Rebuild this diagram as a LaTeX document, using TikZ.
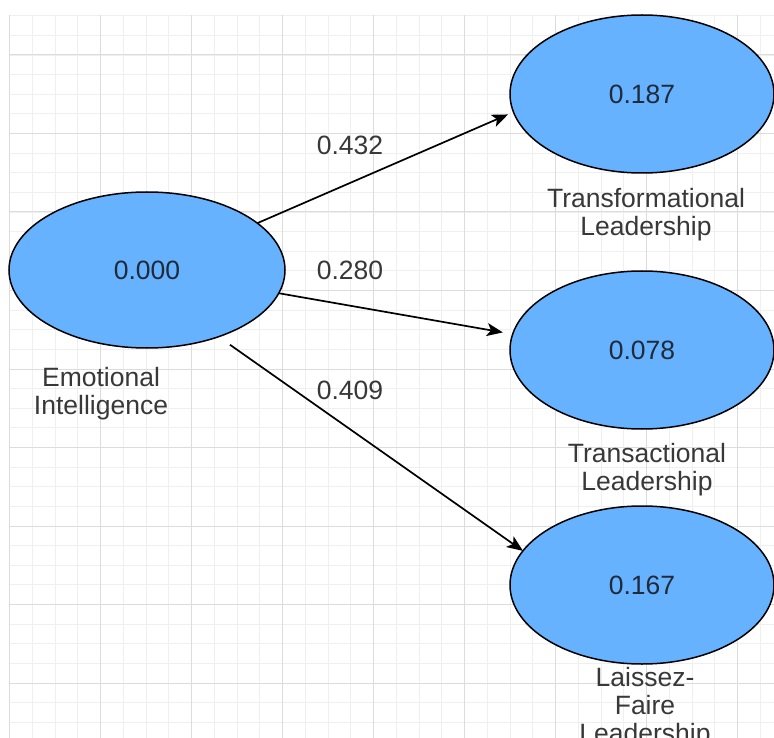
\documentclass[tikz,border=0pt]{standalone}
\usepackage{fontspec}
\setmainfont{Liberation Sans}
\usepackage{tikz}
\usetikzlibrary{arrows.meta}
\usetikzlibrary{shapes.geometric}
\definecolor{gridmajor}{HTML}{DCDCDC}
\definecolor{gridminor}{HTML}{EFEFEF}
\definecolor{latentblue}{HTML}{66B2FF}
\definecolor{numtext}{HTML}{1F2A3A}
\definecolor{labelgray}{HTML}{383838}
\tikzset{
	latent/.style={ellipse, draw=black, line width=1.5pt, fill=latentblue,
		inner sep=0pt, outer sep=0pt, minimum width=264pt, minimum height=158pt,
		text=numtext, font=\fontsize{26.5}{28}\selectfont},
	caption/.style={align=center, text=labelgray, inner sep=0pt,
		font=\fontsize{26.5}{28}\selectfont},
	effect/.style={-{Stealth[length=16pt, width=13pt, inset=4pt]}, line width=1.7pt},
}

\begin{document}
\begin{tikzpicture}[x=1pt, y=-1pt]
	\clip (0,0) rectangle (774,738);
	\fill[white] (0,0) rectangle (774,738);
	
	\foreach \i in {0,1,...,33}{
		\draw[color=gridminor, line width=0.8pt]
			({9.5+22.75*\i},15) -- ({9.5+22.75*\i},738);
	}
	\foreach \i in {0,1,...,36}{
		\draw[color=gridminor, line width=0.8pt]
			(9,{15.75+19.625*\i}) -- (774,{15.75+19.625*\i});
	}
	\foreach \i in {0,1,...,8}{
		\draw[color=gridmajor, line width=1pt]
			({9.5+91*\i},15) -- ({9.5+91*\i},738);
		\draw[color=gridmajor, line width=1pt]
			(9,{55+78.5*\i}) -- (774,{55+78.5*\i});
	}
	
	\node[latent, minimum width=276pt, minimum height=156pt] (ei)
		at (147,270) {0.000};
	\node[latent] (tf) at (642,94) {0.187};
	\node[latent] (ta) at (642,350) {0.078};
	\node[latent] (lf) at (642,585) {0.167};
	
	\node[caption] (einame) at (101,394) {Emotional\\Intelligence};
	\node[caption] (tfname) at (646,215) {Transformational\\Leadership};
	\node[caption] (taname) at (647,470) {Transactional\\Leadership};
	\node[caption] (lfname) at (645,708) {Laissez-\\Faire\\Leadership};
	
	\node[caption] (w1) at (350,145) {0.432};
	\node[caption] (w2) at (350,270) {0.280};
	\node[caption] (w3) at (350,390) {0.409};
	
	\draw[effect, shorten >=6pt] (ei.23.4) -- (tf.188);
	\draw[effect, shorten >=10pt] (ei.-10.9) -- (ta.173);
	\draw[effect, shorten <=14pt] (ei.-43.5) -- (lf.164.5);
\end{tikzpicture}
\end{document}
